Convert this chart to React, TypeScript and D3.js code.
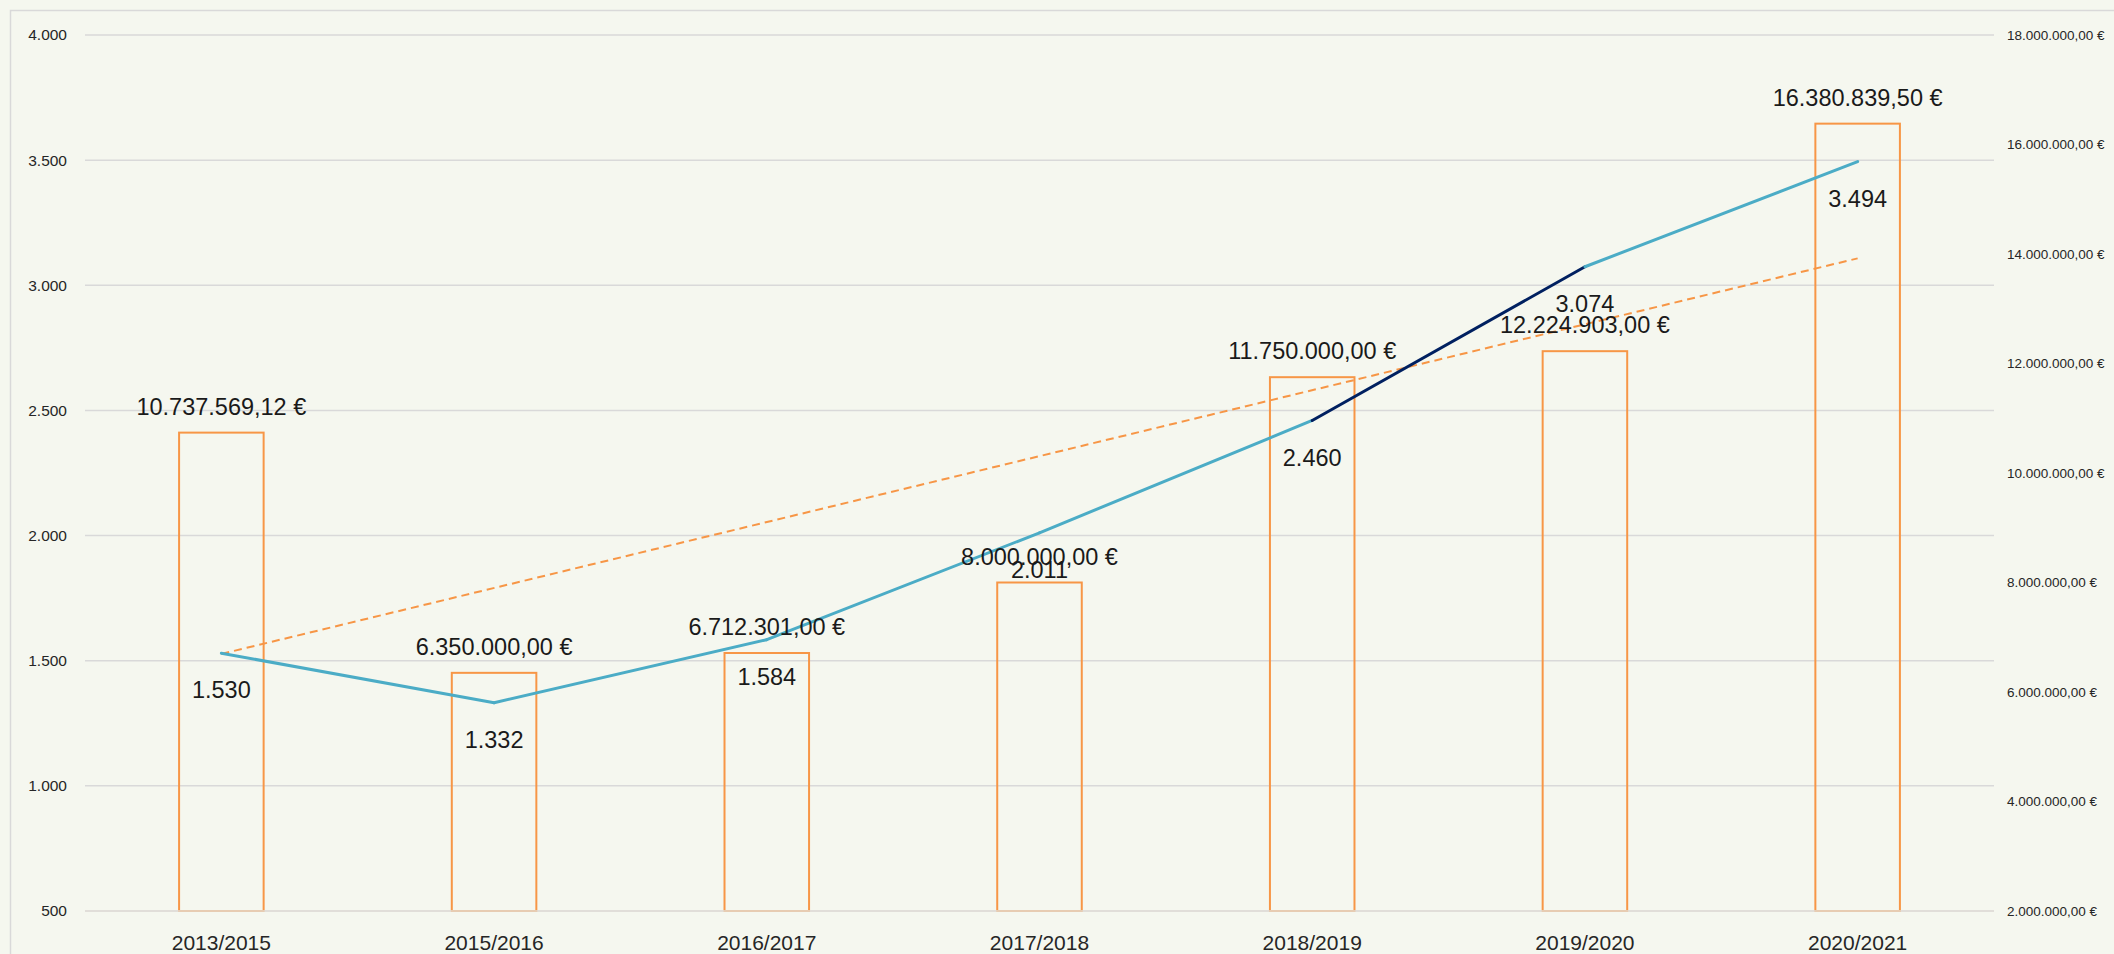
import * as d3 from 'd3'

const categories = ['2013/2015', '2015/2016', '2016/2017', '2017/2018', '2018/2019', '2019/2020', '2020/2021']
const amounts = [10737569.12, 6350000, 6712301, 8000000, 11750000, 12224903, 16380839.5]
const counts = [1530, 1332, 1584, 2011, 2460, 3074, 3494]
const leftTicks = [500, 1000, 1500, 2000, 2500, 3000, 3500, 4000]
const rightTicks = [2000000, 4000000, 6000000, 8000000, 10000000, 12000000, 14000000, 16000000, 18000000]
const darkSegment = 4 // segment from 2018/2019 to 2019/2020

const W = 2114, H = 954
const m = { left: 85, right: 120, top: 35, bottom: 43 }
const FONT = '"Liberation Sans", Arial, sans-serif'

const loc = d3.formatLocale({ decimal: ',', thousands: '.', grouping: [3], currency: ['', ' €'] })
const fmtCount = loc.format(',d')
const fmtEuro = (v: number) => loc.format(',.2f')(v) + ' €'

export default function App() {
  const x = d3.scaleBand<string>().domain(categories).range([m.left, W - m.right]).paddingInner(0.69).paddingOuter(0.345)
  const cx = (c: string) => (x(c) as number) + x.bandwidth() / 2
  const yL = d3.scaleLinear().domain([500, 4000]).range([H - m.bottom, m.top])
  const yR = d3.scaleLinear().domain([2000000, 18000000]).range([H - m.bottom, m.top])

  // linear trendline of the amounts (least squares)
  const idx = amounts.map((_, i) => i + 1)
  const mx = d3.mean(idx) as number, my = d3.mean(amounts) as number
  const slope = d3.sum(idx, (v, i) => (v - mx) * (amounts[i] - my)) / d3.sum(idx, v => (v - mx) ** 2)
  const trend = (i: number) => my + slope * (i - mx)

  const pts = categories.map((c, i) => [cx(c), yL(counts[i])] as [number, number])
  const line = d3.line()

  return (
    <svg width={W} height={H} style={{ position: 'absolute', left: 0, top: 0, display: 'block' }} fontFamily={FONT}>
      <rect x={0} y={0} width={W} height={H} fill="#f5f7ef" />
      <rect x={10.5} y={10.5} width={W + 20} height={H + 20} fill="none" stroke="#d9d9d9" strokeWidth={1.5} />
      {leftTicks.map(t => (
        <g key={t}>
          <line x1={m.left} x2={W - m.right} y1={yL(t)} y2={yL(t)} stroke="#d9d9d9" strokeWidth={1.5} />
          <text x={67} y={yL(t)} dy="0.35em" textAnchor="end" fontSize={15.5} fill="#262626">{fmtCount(t)}</text>
        </g>
      ))}
      {rightTicks.map(t => (
        <text key={t} x={W - m.right + 13} y={yR(t)} dy="0.35em" fontSize={13.5} fill="#262626">{fmtEuro(t)}</text>
      ))}
      {categories.map((c, i) => (
        <rect key={c} x={x(c)} y={yR(amounts[i])} width={x.bandwidth()} height={yR(2000000) - yR(amounts[i])}
          fill="none" stroke="#f79646" strokeWidth={2} />
      ))}
      <line x1={m.left} x2={W - m.right} y1={yL(500)} y2={yL(500)} stroke="rgba(225,222,215,0.75)" strokeWidth={2} />
      <path d={line([[cx(categories[0]), yR(trend(1))], [cx(categories[categories.length - 1]), yR(trend(categories.length))]]) as string}
        fill="none" stroke="#f79646" strokeWidth={2} strokeDasharray="8,5" />
      {pts.slice(1).map((p, i) => (
        <path key={i} d={line([pts[i], p]) as string} fill="none"
          stroke={i === darkSegment ? '#002060' : '#4bacc6'} strokeWidth={3} strokeLinecap="round" />
      ))}
      {categories.map((c, i) => (
        <g key={c} fontSize={23.5} fill="#1a1a1a" textAnchor="middle">
          <text x={cx(c)} y={yR(amounts[i]) - 26} dy="0.35em">{fmtEuro(amounts[i])}</text>
          <text x={cx(c)} y={yL(counts[i]) + 37} dy="0.35em">{fmtCount(counts[i])}</text>
          <text x={cx(c)} y={950} fontSize={21} fill="#262626">{c}</text>
        </g>
      ))}
    </svg>
  )
}
